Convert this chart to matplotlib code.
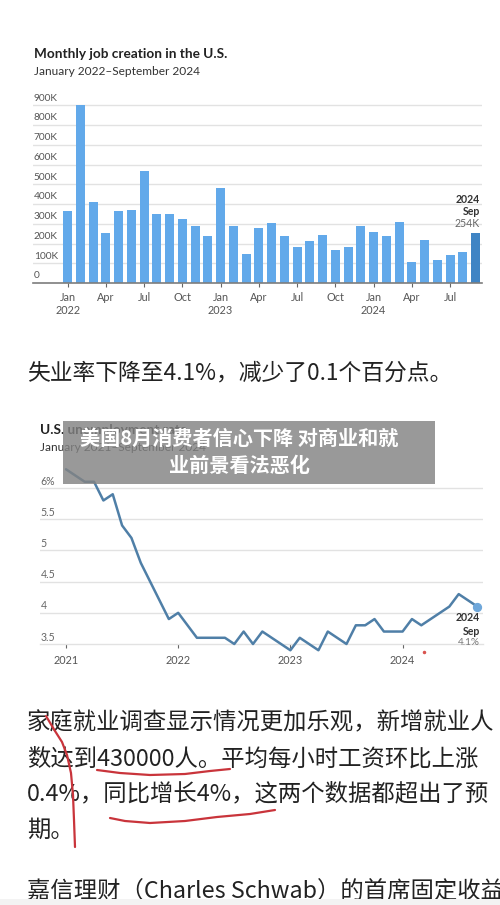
import matplotlib
matplotlib.use("Agg")
import matplotlib.pyplot as plt
from matplotlib.lines import Line2D
from matplotlib.patches import Rectangle
from matplotlib.transforms import blended_transform_factory

W, H = 500, 905
CJK = ["Noto Sans CJK SC", "DejaVu Sans"]
LATIN = ["Lato", "DejaVu Sans"]

# monthly payroll change, Jan 2022 - Sep 2024 (thousands)
jobs = [365, 902, 412, 253, 365, 370, 568, 351, 351, 324, 290, 240,
        483, 287, 145, 279, 304, 240, 184, 211, 245, 165, 182, 289,
        257, 237, 311, 108, 216, 118, 144, 159, 254]
job_xticks = [0, 3, 6, 9, 12, 15, 18, 21, 24, 27, 30]
job_xlabels = ["Jan\n2022", "Apr", "Jul", "Oct", "Jan\n2023", "Apr", "Jul",
               "Oct", "Jan\n2024", "Apr", "Jul"]
job_yticks = [0, 100, 200, 300, 400, 500, 600, 700, 800, 900]
job_ylabels = ["0", "100K", "200K", "300K", "400K", "500K", "600K",
               "700K", "800K", "900K"]

# unemployment rate, Jan 2021 - Sep 2024 (%)
unemp = [6.3, 6.2, 6.1, 6.1, 5.8, 5.9, 5.4, 5.2, 4.8, 4.5, 4.2, 3.9,
         4.0, 3.8, 3.6, 3.6, 3.6, 3.6, 3.5, 3.7, 3.5, 3.7, 3.6, 3.5,
         3.4, 3.6, 3.5, 3.4, 3.7, 3.6, 3.5, 3.8, 3.8, 3.9, 3.7, 3.7,
         3.7, 3.9, 3.8, 3.9, 4.0, 4.1, 4.3, 4.2, 4.1]
unemp_xticks = [0, 12, 24, 36]
unemp_xlabels = ["2021", "2022", "2023", "2024"]
unemp_yticks = [3.5, 4, 4.5, 5, 5.5, 6]
unemp_ylabels = ["3.5", "4", "4.5", "5", "5.5", "6%"]

# article text
line_note = "失业率下降至4.1%，减少了0.1个百分点。"
paragraph = ["家庭就业调查显示情况更加乐观，新增就业人",
             "数达到430000人。平均每小时工资环比上涨",
             "0.4%，同比增长4%，这两个数据都超出了预",
             "期。"]
next_line = "嘉信理财（Charles Schwab）的首席固定收益"
banner = ["美国8月消费者信心下降 对商业和就", "业前景看法恶化"]

# red pen marks drawn on the screenshot (pixel coords)
pen_strokes = [
    ([46, 49, 55, 62, 67, 71, 73, 74, 75], [716, 721, 731, 742, 755, 773, 795, 820, 847]),
    ([97, 120, 150, 185, 210, 230], [770, 773, 775, 774, 771, 769]),
    ([110, 125, 150, 185, 217, 250, 275], [818, 821, 823, 821, 817, 814, 810]),
]


def fx(x):
    return x / W


def fy(y):
    return 1 - y / H


fig = plt.figure(figsize=(W / 100, H / 100), dpi=100)
fig.patch.set_facecolor("white")

# ---- bar chart: monthly job creation ----
fig.text(fx(34), fy(54), "Monthly job creation in the U.S.", family=LATIN,
         fontsize=9.8, weight="bold", color="#222222", va="center")
fig.text(fx(34), fy(71.5), "January 2022\u2013September 2024", family=LATIN,
         fontsize=8.6, color="#333333", va="center")

ax1 = fig.add_axes([fx(33), fy(283), 449 / W, (283 - 95.6) / H])
colors = ["#62a9ea"] * (len(jobs) - 1) + ["#3f84c4"]
ax1.bar(range(len(jobs)), jobs, width=0.7, color=colors, zorder=2)
ax1.set_xlim(-2.72, 32.5)
ax1.set_ylim(0, 950)
for v in job_yticks[1:]:
    ax1.axhline(v, color="#e2e2e2", lw=1, zorder=1)
tr1 = blended_transform_factory(ax1.transAxes, ax1.transData)
for v, lab in zip(job_yticks, job_ylabels):
    ax1.annotate(lab, xy=(0, v), xycoords=tr1, xytext=(0.5, 5.2),
                 textcoords="offset points", va="center", ha="left",
                 fontsize=7.3, color="#555555", family=LATIN)
for s in ["top", "right", "left"]:
    ax1.spines[s].set_visible(False)
ax1.spines["bottom"].set_color("#7d7d7d")
ax1.spines["bottom"].set_linewidth(1.2)
ax1.set_yticks([])
ax1.set_xticks(job_xticks, job_xlabels, family=LATIN)
ax1.tick_params(axis="x", length=3, width=0.8, color="#666666",
                labelsize=7.8, labelcolor="#555555", pad=3.5)
last = len(jobs) - 1
ax1.annotate("254K", xy=(last + 0.35, jobs[last]), xytext=(0, 6.8),
             textcoords="offset points", ha="right", va="center",
             fontsize=7.6, color="#666666", family=LATIN)
ax1.annotate("Sep", xy=(last + 0.35, jobs[last]), xytext=(0, 15.5),
             textcoords="offset points", ha="right", va="center",
             fontsize=7.6, weight="bold", color="#333333", family=LATIN)
ax1.annotate("2024", xy=(last + 0.35, jobs[last]), xytext=(0, 24.2),
             textcoords="offset points", ha="right", va="center",
             fontsize=7.6, weight="bold", color="#333333", family=LATIN)

# ---- text between charts ----
fig.text(fx(27), fy(373), line_note, family=CJK, fontsize=16.4,
         color="#222222", va="center")

# ---- line chart: unemployment rate ----
fig.text(fx(40), fy(430), "U.S. unemployment rate", family=LATIN,
         fontsize=9.8, weight="bold", color="#222222", va="center")
fig.text(fx(40), fy(447), "January 2021\u2013September 2024", family=LATIN,
         fontsize=8.6, color="#333333", va="center")

ax2 = fig.add_axes([fx(40), fy(656.5), 443 / W, (656.5 - 456.8) / H])
ax2.plot(range(len(unemp)), unemp, color="#4f7fa7", lw=1.8,
         solid_joinstyle="round", solid_capstyle="round", zorder=3)
ax2.scatter([len(unemp) - 1], [unemp[-1]], s=32, color="#6fa7da", zorder=4)
ax2.set_xlim(-2.78, 44.6)
ax2.set_ylim(3.3, 6.5)
for v in unemp_yticks[1:]:
    ax2.axhline(v, color="#e2e2e2", lw=1, zorder=1)
tr2 = blended_transform_factory(ax2.transAxes, ax2.transData)
for v, lab in zip(unemp_yticks, unemp_ylabels):
    ax2.annotate(lab, xy=(0, v), xycoords=tr2, xytext=(0.5, 5),
                 textcoords="offset points", va="center", ha="left",
                 fontsize=7.6, color="#666666", family=LATIN)
for s in ["top", "right", "left"]:
    ax2.spines[s].set_visible(False)
ax2.spines["bottom"].set_position(("data", 3.5))
ax2.spines["bottom"].set_color("#e2e2e2")
ax2.spines["bottom"].set_linewidth(1)
ax2.set_yticks([])
ax2.set_xticks(unemp_xticks, unemp_xlabels, family=LATIN)
ax2.tick_params(axis="x", length=3, width=0.8, color="#666666",
                labelsize=7.8, labelcolor="#555555", pad=5)
n = len(unemp) - 1
ax2.annotate("2024", xy=(n, unemp[n]), xytext=(1.7, -8.1),
             textcoords="offset points", ha="right", va="center",
             fontsize=7.6, weight="bold", color="#333333", family=LATIN)
ax2.annotate("Sep", xy=(n, unemp[n]), xytext=(1.7, -17.8),
             textcoords="offset points", ha="right", va="center",
             fontsize=7.6, weight="bold", color="#333333", family=LATIN)
ax2.annotate("4.1%", xy=(n, unemp[n]), xytext=(1.7, -26.1),
             textcoords="offset points", ha="right", va="center",
             fontsize=7.2, color="#777777", family=LATIN)

# ---- grey headline banner over the second chart ----
fig.add_artist(Rectangle((fx(63), fy(483.5)), (435 - 63) / W, (483.5 - 421) / H,
                         transform=fig.transFigure, facecolor="#838383",
                         alpha=0.82, edgecolor="none", zorder=5))
fig.text(fx(239), fy(438.5), banner[0], family=CJK, fontsize=14.5,
         weight="bold", color="white", ha="center", va="center", zorder=6)
fig.text(fx(239.5), fy(465), banner[1], family=CJK, fontsize=14.5,
         weight="bold", color="white", ha="center", va="center", zorder=6)

# ---- paragraph ----
for txt, y in zip(paragraph, [723, 759, 794, 830]):
    fig.text(fx(27), fy(y), txt, family=CJK, fontsize=16.8,
             color="#222222", va="center")
fig.text(fx(27), fy(892), next_line, family=CJK, fontsize=16.8,
         color="#222222", va="center")
fig.add_artist(Rectangle((0, 0), 1, 6 / H, transform=fig.transFigure,
                         facecolor="#f3f3f3", edgecolor="none", zorder=5))

# red pen marks
for xs, ys in pen_strokes:
    fig.add_artist(Line2D([fx(x) for x in xs], [fy(y) for y in ys],
                          transform=fig.transFigure, color="#c9343b", lw=1.6,
                          solid_capstyle="round", zorder=7))
fig.add_artist(Line2D([fx(424)], [fy(652)], transform=fig.transFigure,
                      marker="o", markersize=1.5, color="#d9534f", zorder=7))

fig.savefig("out.png", dpi=100)
